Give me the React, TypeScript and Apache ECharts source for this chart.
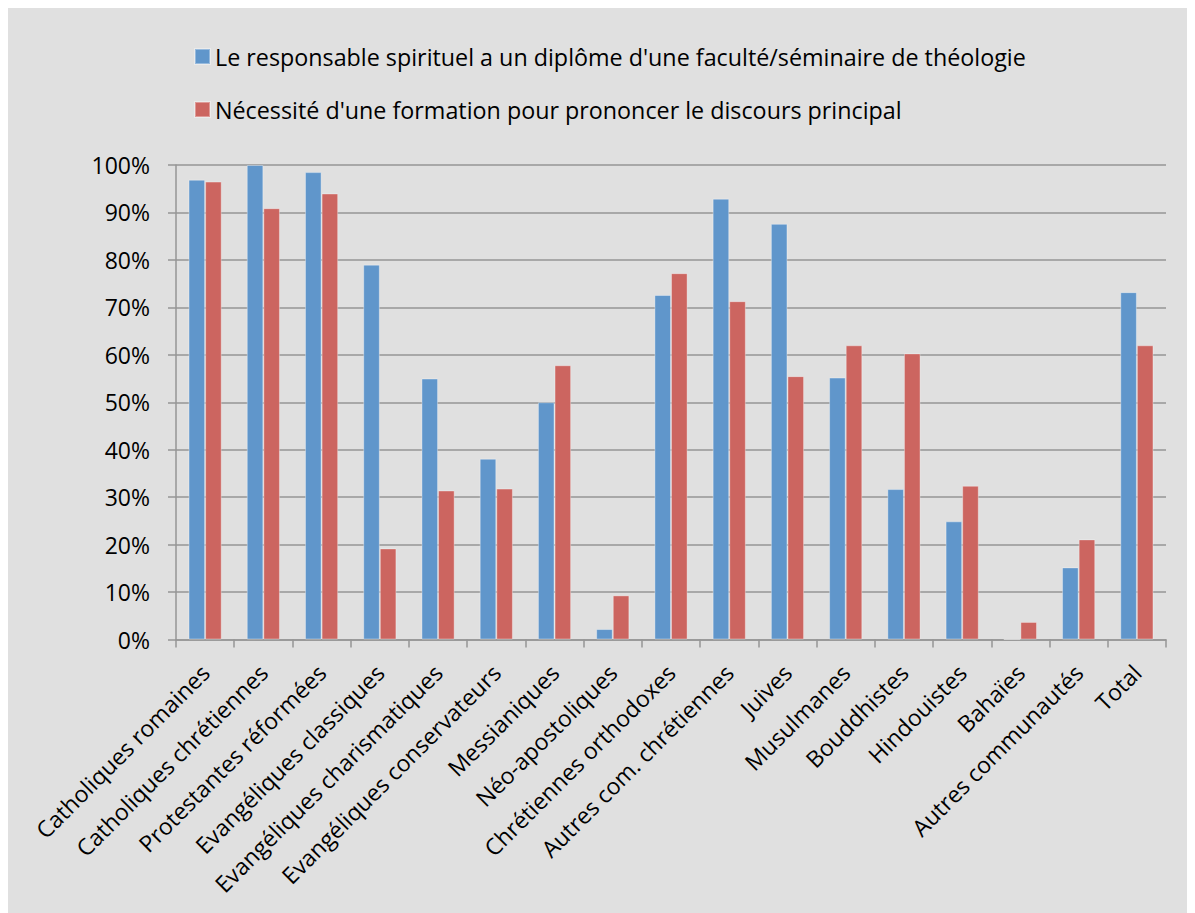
import React, { useEffect, useRef } from "react";
import * as echarts from "echarts";

const categories = [
  "Catholiques romaines",
  "Catholiques chrétiennes",
  "Protestantes réformées",
  "Evangéliques classiques",
  "Evangéliques charismatiques",
  "Evangéliques conservateurs",
  "Messianiques",
  "Néo-apostoliques",
  "Chrétiennes orthodoxes",
  "Autres com. chrétiennes",
  "Juives",
  "Musulmanes",
  "Bouddhistes",
  "Hindouistes",
  "Bahaïes",
  "Autres communautés",
  "Total",
];

const seriesNames = [
  "Le responsable spirituel a un diplôme d'une faculté/séminaire de théologie",
  "Nécessité d'une formation pour prononcer le discours principal",
];

const diplome = [96.9, 100, 98.5, 79.0, 55.0, 38.1, 50.0, 2.2, 72.6, 92.9, 87.6, 55.2, 31.7, 24.9, 0, 15.2, 73.2];
const formation = [96.5, 90.9, 94.0, 19.2, 31.4, 31.8, 57.8, 9.3, 77.2, 71.3, 55.5, 62.0, 60.3, 32.4, 3.7, 21.1, 62.0];

const yTicks = { min: 0, max: 100, interval: 10 };

const FONT = "'Open Sans', sans-serif";

export default function App() {
  const ref = useRef<HTMLDivElement>(null);
  useEffect(() => {
    if (!ref.current) return;
    const chart = echarts.init(ref.current, null, { renderer: "svg" });
    chart.setOption({
      animation: false,
      backgroundColor: "#e0e0e0",
      textStyle: { fontFamily: FONT },
      legend: {
        orient: "vertical",
        left: 181,
        top: 34,
        itemWidth: 15,
        itemHeight: 15,
        itemGap: 30,
        icon: "rect",
        textStyle: { fontFamily: FONT, fontSize: 23.3, color: "#000", lineHeight: 20 },
        data: seriesNames,
      },
      grid: { left: 168, right: 29, top: 159, bottom: 273.5 },
      xAxis: {
        type: "category",
        data: categories,
        axisLine: { lineStyle: { color: "#969696", width: 1.5 } },
        axisTick: { show: true, length: 8, alignWithLabel: false, lineStyle: { color: "#969696", width: 1.5 } },
        axisLabel: {
          interval: 0,
          rotate: 45,
          fontFamily: FONT,
          fontSize: 23,
          color: "#000",
          margin: 29,
        },
      },
      yAxis: {
        type: "value",
        min: yTicks.min,
        max: yTicks.max,
        interval: yTicks.interval,
        axisLine: { show: true, lineStyle: { color: "#969696", width: 1.5 } },
        axisTick: { show: true, length: 8, lineStyle: { color: "#969696", width: 1.5 } },
        splitLine: { show: true, lineStyle: { color: "#969696", width: 1.5 } },
        axisLabel: {
          formatter: "{value}%",
          fontFamily: FONT,
          fontSize: 23,
          color: "#000",
          margin: 26,
        },
      },
      series: [
        {
          name: seriesNames[0],
          type: "bar",
          data: diplome,
          barGap: "0%",
          barCategoryGap: "43%",
          itemStyle: { color: "#6096cb", borderColor: "rgba(255,255,255,0.35)", borderWidth: 1 },
        },
        {
          name: seriesNames[1],
          type: "bar",
          data: formation,
          barGap: "0%",
          barCategoryGap: "43%",
          itemStyle: { color: "#cc6560", borderColor: "rgba(255,255,255,0.35)", borderWidth: 1 },
        },
      ],
    });
    return () => chart.dispose();
  }, []);
  return (
    <div
      ref={ref}
      style={{ width: 1187, height: 907, marginTop: -2 }}
    />
  );
}
